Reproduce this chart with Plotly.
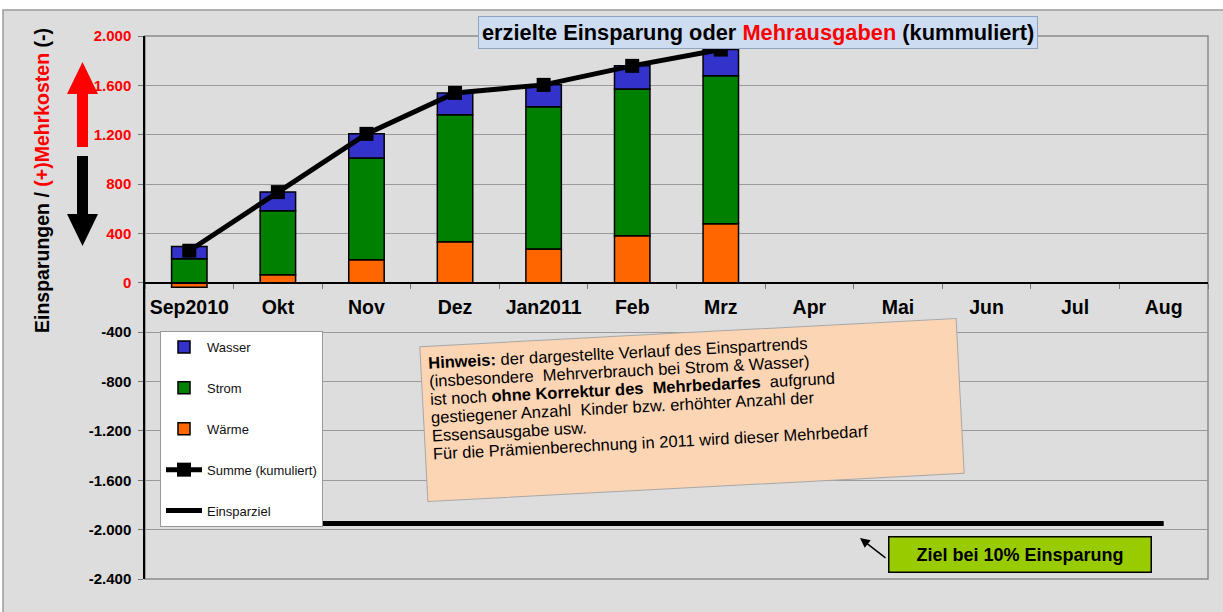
import plotly.graph_objects as go

# ---------------- data ----------------
months = ["Sep2010", "Okt", "Nov", "Dez", "Jan2011", "Feb", "Mrz",
          "Apr", "Mai", "Jun", "Jul", "Aug"]
data_months = ["Sep2010", "Okt", "Nov", "Dez", "Jan2011", "Feb", "Mrz"]
waerme = [-35, 65, 186, 332, 275, 381, 478]
strom = [195, 518, 826, 1029, 1151, 1190, 1199]
wasser = [100, 152, 195, 178, 178, 187, 213]
summe = [260, 735, 1207, 1539, 1604, 1758, 1890]
ziel_months = ["Sep2010", "Aug"]
ziel_values = [-1950, -1950]
y_tickvals = [2000, 1600, 1200, 800, 400, 0, -400, -800, -1200, -1600, -2000, -2400]
y_ticktext = ["2.000", "1.600", "1.200", "800", "400", "0", "-400", "-800",
              "-1.200", "-1.600", "-2.000", "-2.400"]

W, H = 1223, 612
ML, MR, MT, MB = 145, 15, 36, 33
PW, PH = W - ML - MR, H - MT - MB
FONT = "Arial, Liberation Sans, sans-serif"


def px(x):
    return (x - ML) / PW


def py(y):
    return (H - MB - y) / PH


fig = go.Figure()

fig.add_trace(go.Bar(x=data_months, y=waerme, name="Wärme", marker=dict(color="#FF6600", line=dict(color="black", width=1.5)),
                     width=0.4, legendrank=3, legendgroup="c"))
fig.add_trace(go.Bar(x=data_months, y=strom, name="Strom", marker=dict(color="#008000", line=dict(color="black", width=1.5)),
                     width=0.4, legendrank=2, legendgroup="b"))
fig.add_trace(go.Bar(x=data_months, y=wasser, name="Wasser", marker=dict(color="#3333CC", line=dict(color="black", width=1.5)),
                     width=0.4, legendrank=1, legendgroup="a"))
fig.add_trace(go.Scatter(x=data_months, y=summe, name="Summe (kumuliert)", mode="lines+markers",
                         line=dict(color="black", width=5), marker=dict(symbol="square", size=14, color="black"),
                         legendrank=4, legendgroup="d"))
fig.add_trace(go.Scatter(x=ziel_months, y=ziel_values, name="Einsparziel", mode="lines",
                         line=dict(color="black", width=5), legendrank=5, legendgroup="e"))

ticktext = []
for v, t in zip(y_tickvals, y_ticktext):
    col = "#FF0000" if v >= 0 else "#000000"
    ticktext.append(f"<span style='color:{col}'><b>{t}</b></span>")

shapes = [
    # chart area background
    dict(type="rect", xref="paper", yref="paper", x0=px(3), x1=px(1240), y0=py(10), y1=py(640),
         fillcolor="#DDDDDD", line=dict(color="#9a9a9a", width=1.5), layer="below"),
    # plot area border
    dict(type="rect", xref="paper", yref="paper", x0=0, x1=1, y0=0, y1=1,
         line=dict(color="#8a8a8a", width=1.5), layer="below"),
    # red up arrow
    dict(type="path", xref="paper", yref="paper",
         path=(f"M {px(77)},{py(147)} L {px(88)},{py(147)} L {px(88)},{py(94)} L {px(98)},{py(94)} "
               f"L {px(82.5)},{py(62)} L {px(67)},{py(94)} L {px(77)},{py(94)} Z"),
         fillcolor="#FF0000", line=dict(width=0)),
    # black down arrow
    dict(type="path", xref="paper", yref="paper",
         path=(f"M {px(77)},{py(156)} L {px(88)},{py(156)} L {px(88)},{py(214)} L {px(98)},{py(214)} "
               f"L {px(82.5)},{py(246)} L {px(67)},{py(214)} L {px(77)},{py(214)} Z"),
         fillcolor="#000000", line=dict(width=0)),
]

note_lines = [
    "<b>Hinweis:</b> der dargestellte Verlauf des Einspartrends",
    "(insbesondere  Mehrverbrauch bei Strom &amp; Wasser)",
    "ist noch <b>ohne Korrektur des  Mehrbedarfes</b>  aufgrund",
    "gestiegener Anzahl  Kinder bzw. erhöhter Anzahl der",
    "Essensausgabe usw.",
    "Für die Prämienberechnung in 2011 wird dieser Mehrbedarf",
]
note_text = "<br>".join(f"<span style='font-size:16.5px'>{l}</span>" for l in note_lines)

annotations = [
    dict(xref="paper", yref="paper", x=px(42), y=py(181), xanchor="center", yanchor="middle",
         textangle=-90, showarrow=False,
         text="Einsparungen / <span style='color:#FF0000'>(+)Mehrkosten</span> (-)",
         font=dict(family=FONT, size=19.5, color="black", weight="bold")),
    dict(xref="paper", yref="paper", x=px(758), y=py(33), xanchor="center", yanchor="middle", showarrow=False,
         text="erzielte Einsparung oder <span style='color:#FF0000'>Mehrausgaben</span> (kummuliert)",
         font=dict(family=FONT, size=21.8, color="black", weight="bold"),
         bgcolor="#cddcf0", bordercolor="#8ea4c0", borderwidth=1, borderpad=3),
    dict(xref="paper", yref="paper", x=px(692), y=py(410), xanchor="center", yanchor="middle",
         showarrow=False, textangle=-3,
         text=note_text,
         font=dict(family=FONT, size=14, color="black"), align="left", valign="top",
         width=522, height=140, borderpad=7,
         bgcolor="#FCD5B5", bordercolor="#a8a8a8", borderwidth=1),
    dict(xref="paper", yref="paper", x=px(1020), y=py(554), xanchor="center", yanchor="middle", showarrow=False,
         text="Ziel bei 10% Einsparung", width=257, height=30,
         font=dict(family=FONT, size=18, color="black", weight="bold"),
         bgcolor="#99CC00", bordercolor="black", borderwidth=1.5, borderpad=2),
    dict(xref="paper", yref="paper", x=px(860), y=py(538), ax=27, ay=21, text="",
         showarrow=True, arrowhead=2, arrowsize=1.3, arrowwidth=1.5, arrowcolor="black"),
]

fig.update_layout(
    width=W, height=H,
    margin=dict(l=ML, r=MR, t=MT, b=MB),
    paper_bgcolor="white", plot_bgcolor="rgba(0,0,0,0)",
    barmode="relative", bargap=0.6,
    font=dict(family=FONT, color="black"),
    showlegend=True,
    legend=dict(x=px(160), y=py(331), xanchor="left", yanchor="top",
                bgcolor="white", bordercolor="#999999", borderwidth=1,
                font=dict(family=FONT, size=13, color="#111111"),
                tracegroupgap=21, traceorder="grouped", itemwidth=36),
    shapes=shapes, annotations=annotations,
    xaxis=dict(type="category", categoryorder="array", categoryarray=months,
               range=[-0.5, len(months) - 0.5],
               anchor="free", position=2400 / 4400,
               showline=True, linecolor="black", linewidth=1,
               ticks="outside", tickson="boundaries", ticklen=5, tickcolor="#777777",
               showgrid=False,
               tickfont=dict(family=FONT, size=19.5, color="black", weight="bold"),
               ticklabelstandoff=7),
    yaxis=dict(range=[-2400, 2000], tickvals=y_tickvals, ticktext=ticktext,
               showgrid=True, gridcolor="#9a9a9a", gridwidth=1,
               zeroline=True, zerolinecolor="black", zerolinewidth=1,
               showline=True, linecolor="black", linewidth=1.5,
               ticks="outside", ticklen=5, tickcolor="#777777",
               tickfont=dict(family=FONT, size=15), ticklabelstandoff=4),
)

fig.write_html("out.html", config={"displayModeBar": False},
               post_script="document.body.style.margin='0';document.body.style.padding='0';")
